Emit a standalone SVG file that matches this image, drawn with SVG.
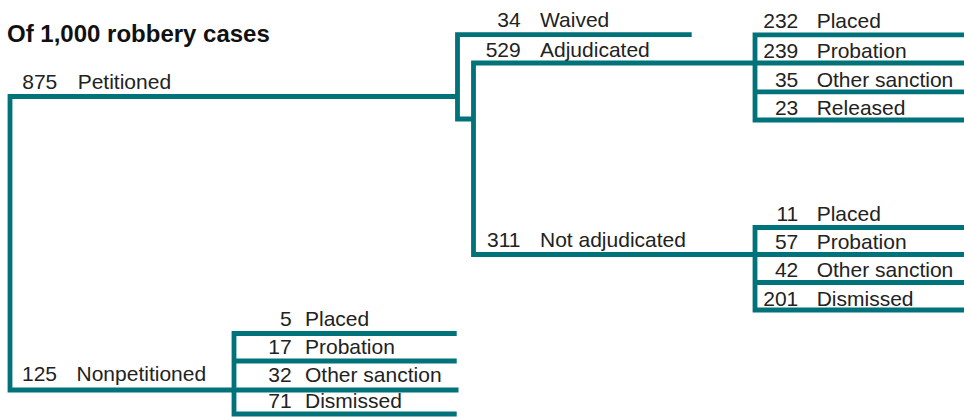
<svg xmlns="http://www.w3.org/2000/svg" width="964" height="417" viewBox="0 0 964 417">
<style>
.ln{fill:none;stroke:#00727a;stroke-width:4.8;stroke-linejoin:miter;stroke-linecap:butt}
text{font-family:"Liberation Sans",Arial,sans-serif;font-size:21px;fill:#222}
.n{text-anchor:end}
.title{font-weight:bold;font-size:24px;fill:#111}
</style>
<rect width="964" height="417" fill="#fff"/>
<text class="title" x="7" y="42">Of 1,000 robbery cases</text>
<g id="connectors">
<path class="ln" d="M458,96.5 H10 V390 H458.5"/>
<path class="ln" d="M691.7,34.7 H457.5 V119 H473.5"/>
<path class="ln" d="M964,63 H473.5 V254.5 H964"/>
<path class="ln" d="M964,34.8 H755 V120 H964"/>
<path class="ln" d="M755,91.8 H964"/>
<path class="ln" d="M964,227.5 H755 V310 H964"/>
<path class="ln" d="M755,282.5 H964"/>
<path class="ln" d="M456.7,333.5 H234 V414 H456.7"/>
<path class="ln" d="M234,361 H456.7"/>
</g>
<g id="petitioned"><text class="n" x="57.3" y="89">875</text><text x="77.7" y="89">Petitioned</text></g>
<g id="nonpetitioned"><text class="n" x="57" y="381">125</text><text x="76.5" y="381">Nonpetitioned</text></g>
<g id="waived"><text class="n" x="520.7" y="26.7">34</text><text x="540" y="26.7">Waived</text></g>
<g id="adjudicated"><text class="n" x="520.7" y="56.7">529</text><text x="540" y="56.7">Adjudicated</text></g>
<g id="not-adjudicated"><text class="n" x="520.5" y="246.7">311</text><text x="540" y="246.7">Not adjudicated</text></g>
<g id="adj-placed"><text class="n" x="798.3" y="28.3">232</text><text x="816.7" y="28.3">Placed</text></g>
<g id="adj-probation"><text class="n" x="798.3" y="58.3">239</text><text x="816.7" y="58.3">Probation</text></g>
<g id="adj-other"><text class="n" x="798.3" y="86.7">35</text><text x="816.7" y="86.7">Other sanction</text></g>
<g id="adj-released"><text class="n" x="798.3" y="115">23</text><text x="816.7" y="115">Released</text></g>
<g id="nadj-placed"><text class="n" x="798.3" y="220.7">11</text><text x="816.7" y="220.7">Placed</text></g>
<g id="nadj-probation"><text class="n" x="798.3" y="249.3">57</text><text x="816.7" y="249.3">Probation</text></g>
<g id="nadj-other"><text class="n" x="798.3" y="277.3">42</text><text x="816.7" y="277.3">Other sanction</text></g>
<g id="nadj-dismissed"><text class="n" x="798.3" y="306">201</text><text x="816.7" y="306">Dismissed</text></g>
<g id="np-placed"><text class="n" x="291.7" y="325.7">5</text><text x="305" y="325.7">Placed</text></g>
<g id="np-probation"><text class="n" x="291.7" y="354.3">17</text><text x="305" y="354.3">Probation</text></g>
<g id="np-other"><text class="n" x="291.7" y="382.3">32</text><text x="305" y="382.3">Other sanction</text></g>
<g id="np-dismissed"><text class="n" x="291.7" y="408.3">71</text><text x="305" y="408.3">Dismissed</text></g>
</svg>
